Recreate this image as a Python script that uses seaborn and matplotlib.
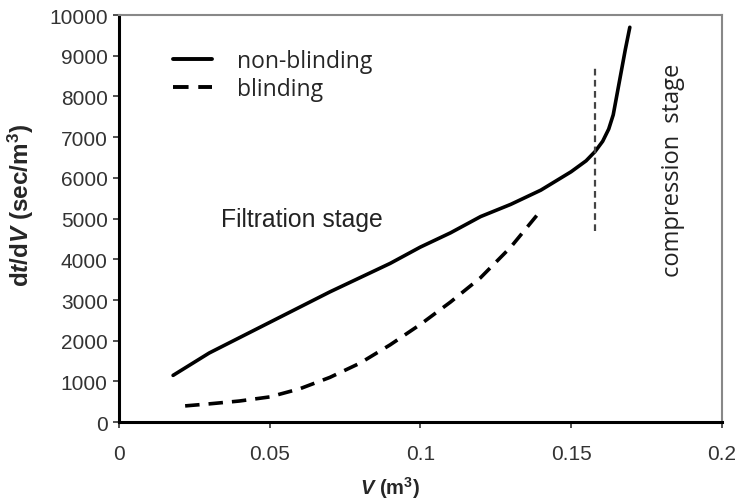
import pandas as pd
import matplotlib.pyplot as plt
import seaborn as sns

sns.set_style("white")
plt.rcParams["font.family"] = ["Liberation Sans", "DejaVu Sans"]
plt.rcParams["mathtext.fontset"] = "custom"
plt.rcParams["mathtext.it"] = "Liberation Sans:italic:bold"
plt.rcParams["mathtext.rm"] = "Liberation Sans:bold"
plt.rcParams["mathtext.bf"] = "Liberation Sans:bold"

# Dados
v_non = [0.018, 0.03, 0.05, 0.07, 0.09, 0.10, 0.11, 0.12, 0.13, 0.14,
         0.15, 0.155, 0.158, 0.1605, 0.1625, 0.164, 0.165, 0.166, 0.167,
         0.168, 0.1695]
dt_non = [1150, 1700, 2450, 3200, 3900, 4300, 4650, 5050, 5350, 5700,
          6150, 6420, 6650, 6900, 7200, 7550, 7950, 8350, 8750,
          9150, 9700]

v_bl = [0.022, 0.03, 0.04, 0.05, 0.06, 0.07, 0.08, 0.09, 0.10, 0.11,
        0.12, 0.13, 0.14]
dt_bl = [400, 450, 520, 620, 820, 1100, 1450, 1900, 2400, 2950,
         3550, 4300, 5200]

boundary_v = 0.158
boundary_y = [4700, 8700]

df = pd.concat([
    pd.DataFrame({"V": v_non, "dtdV": dt_non, "serie": "non-blinding"}),
    pd.DataFrame({"V": v_bl, "dtdV": dt_bl, "serie": "blinding"}),
])

fig = plt.figure(figsize=(7.38, 5.02), dpi=100)
ax = fig.add_axes([0.161, 0.157, 0.817, 0.811])

sns.lineplot(data=df, x="V", y="dtdV", style="serie", color="black",
             linewidth=2.6, dashes={"non-blinding": "", "blinding": (4, 2.5)},
             ax=ax, sort=False, estimator=None)
ax.plot([boundary_v, boundary_v], boundary_y, color="#444444",
        linewidth=1.6, linestyle=(0, (3, 2)))

ax.set_xlim(0, 0.2)
ax.set_ylim(0, 10000)
ax.set_xticks([0, 0.05, 0.1, 0.15, 0.2])
ax.set_xticklabels(["0", "0.05", "0.1", "0.15", "0.2"])
ax.set_yticks(range(0, 10001, 1000))
ax.tick_params(axis="both", labelsize=15, colors="#333333", direction="out",
               length=4, width=1.2, bottom=True, left=True)
ax.tick_params(axis="x", pad=12)
ax.tick_params(axis="y", pad=4)

for s in ["left", "bottom"]:
    ax.spines[s].set_color("black")
    ax.spines[s].set_linewidth(2.2)
for s in ["top", "right"]:
    ax.spines[s].set_color("#888888")
    ax.spines[s].set_linewidth(1.5)

ax.set_xlabel(r"$V$ (m$^{3}$)", fontsize=14.5, fontweight="bold")
ax.xaxis.set_label_coords(0.449, -0.127)
ax.set_ylabel(r"d$t$/d$V$ (sec/m$^{3}$)", fontsize=17.5, fontweight="bold")
ax.yaxis.set_label_coords(-0.137, 0.535)

leg = ax.legend(loc="upper left", bbox_to_anchor=(0.075, 0.938), frameon=False,
                handlelength=1.7, handletextpad=1.1, borderaxespad=0,
                labelspacing=0.15, prop={"family": "Open Sans", "size": 16.5})
for line in leg.get_lines():
    line.set_linewidth(2.8)

ax.text(0.034, 5000, "Filtration stage", fontsize=17.8, color="#222222",
        va="center", ha="left")
ax.text(0.1837, 6220, "compression  stage", fontsize=17, color="#222222",
        rotation=90, va="center", ha="center", family="Open Sans")

fig.savefig("out.png", dpi=100)
